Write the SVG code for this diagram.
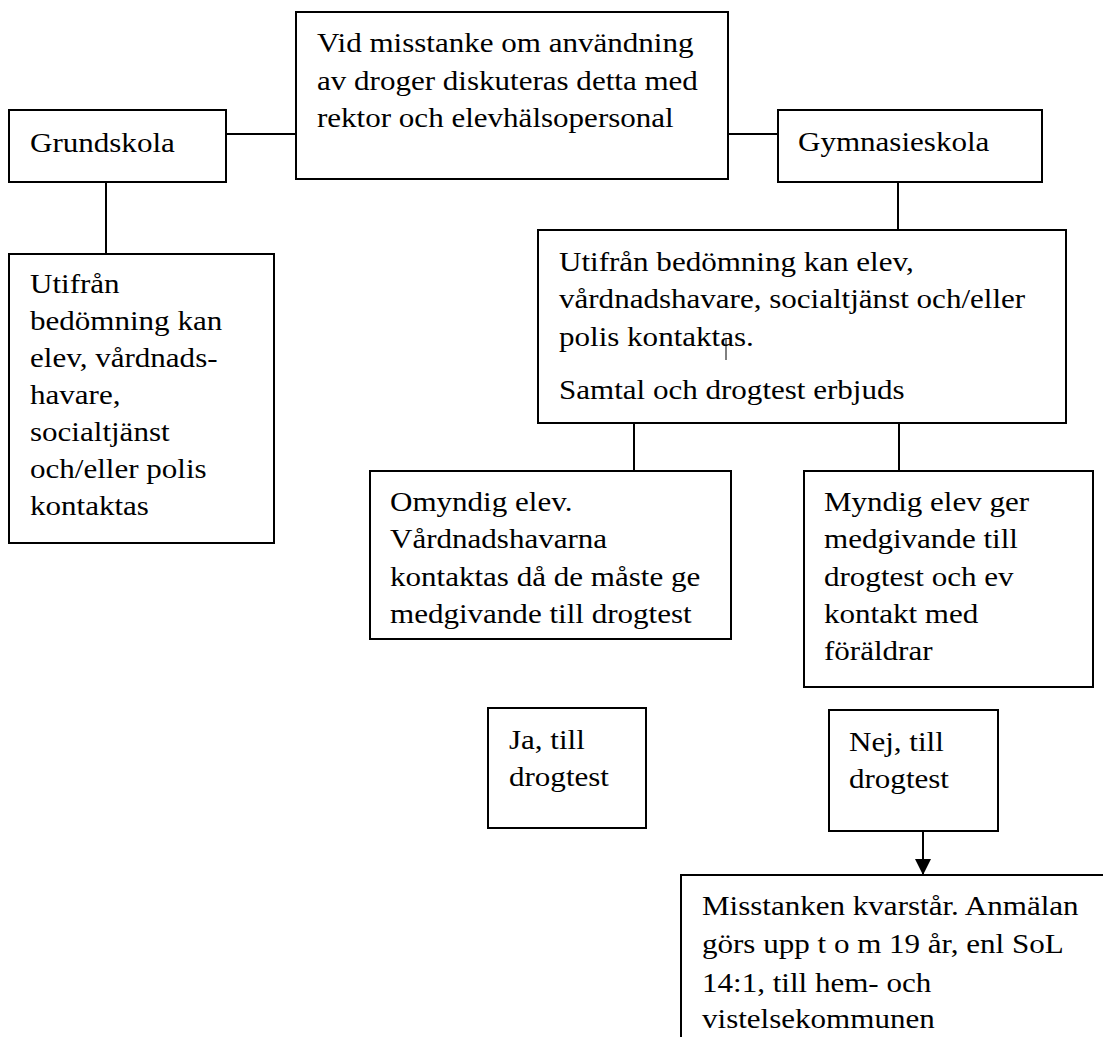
<svg xmlns="http://www.w3.org/2000/svg" width="1103" height="1037" viewBox="0 0 1103 1037">
<style>
.box{fill:#fff;stroke:#000;stroke-width:2}
.t{font-family:"Liberation Serif","Times New Roman",serif;font-size:27px;fill:#000}
.c{stroke:#000;stroke-width:2;fill:none}
</style>
<defs>
<marker id="ah" markerWidth="16" markerHeight="16" viewBox="0 0 16 16" refX="16" refY="8" orient="auto" markerUnits="userSpaceOnUse">
<path d="M0,0 L16,8 L0,16 Z" fill="#000"/>
</marker>
</defs>
<rect width="1103" height="1037" fill="#fff"/>
<g id="connectors">
<line class="c" x1="226" y1="134" x2="296" y2="134"/>
<line class="c" x1="728" y1="134" x2="778" y2="134"/>
<line class="c" x1="106" y1="182" x2="106" y2="254"/>
<line class="c" x1="898" y1="182" x2="898" y2="230"/>
<line class="c" x1="634" y1="423" x2="634" y2="471"/>
<line class="c" x1="899" y1="423" x2="899" y2="471"/>
<line class="c" x1="923" y1="831" x2="923" y2="875" marker-end="url(#ah)"/>
</g>
<g id="center">
<rect class="box" x="296" y="12" width="432" height="167"/>
<text class="t" transform="translate(317,0) scale(1.15,1)"><tspan x="0" y="52">Vid misstanke om användning</tspan><tspan x="0" y="90">av droger diskuteras detta med</tspan><tspan x="0" y="127">rektor och elevhälsopersonal</tspan></text>
</g>
<g id="grundskola">
<rect class="box" x="9" y="110" width="217" height="72"/>
<text class="t" transform="translate(30,0) scale(1.15,1)"><tspan x="0" y="152">Grundskola</tspan></text>
</g>
<g id="gymnasieskola">
<rect class="box" x="778" y="110" width="264" height="72"/>
<text class="t" transform="translate(798,0) scale(1.15,1)"><tspan x="0" y="151">Gymnasieskola</tspan></text>
</g>
<g id="grund-utifran">
<rect class="box" x="9" y="254" width="265" height="289"/>
<text class="t" transform="translate(30,0) scale(1.15,1)"><tspan x="0" y="293">Utifrån</tspan><tspan x="0" y="330">bedömning kan</tspan><tspan x="0" y="367">elev, vårdnads-</tspan><tspan x="0" y="404">havare,</tspan><tspan x="0" y="441">socialtjänst</tspan><tspan x="0" y="478">och/eller polis</tspan><tspan x="0" y="515">kontaktas</tspan></text>
</g>
<g id="gym-utifran">
<rect class="box" x="538" y="230" width="528" height="193"/>
<text class="t" transform="translate(559,0) scale(1.15,1)"><tspan x="0" y="271">Utifrån bedömning kan elev,</tspan><tspan x="0" y="308">vårdnadshavare, socialtjänst och/eller</tspan><tspan x="0" y="346">polis kontaktas.</tspan><tspan x="0" y="399">Samtal och drogtest erbjuds</tspan></text>
<line x1="726" y1="339" x2="726" y2="360" stroke="#000" stroke-width="1"/>
</g>
<g id="omyndig">
<rect class="box" x="370" y="471" width="361" height="168"/>
<text class="t" transform="translate(390,0) scale(1.15,1)"><tspan x="0" y="511">Omyndig elev.</tspan><tspan x="0" y="548">Vårdnadshavarna</tspan><tspan x="0" y="586">kontaktas då de måste ge</tspan><tspan x="0" y="623">medgivande till drogtest</tspan></text>
</g>
<g id="myndig">
<rect class="box" x="804" y="471" width="289" height="216"/>
<text class="t" transform="translate(824,0) scale(1.15,1)"><tspan x="0" y="511">Myndig elev ger</tspan><tspan x="0" y="548">medgivande till</tspan><tspan x="0" y="586">drogtest och ev</tspan><tspan x="0" y="623">kontakt med</tspan><tspan x="0" y="660">föräldrar</tspan></text>
</g>
<g id="ja">
<rect class="box" x="488" y="708" width="158" height="120"/>
<text class="t" transform="translate(509,0) scale(1.15,1)"><tspan x="0" y="749">Ja, till</tspan><tspan x="0" y="786">drogtest</tspan></text>
</g>
<g id="nej">
<rect class="box" x="829" y="710" width="169" height="121"/>
<text class="t" transform="translate(849,0) scale(1.15,1)"><tspan x="0" y="751">Nej, till</tspan><tspan x="0" y="788">drogtest</tspan></text>
</g>
<g id="misstanken">
<rect class="box" x="681" y="875" width="440" height="180"/>
<text class="t" transform="translate(702,0) scale(1.15,1)"><tspan x="0" y="915">Misstanken kvarstår. Anmälan</tspan><tspan x="0" y="953">görs upp t o m 19 år, enl SoL</tspan><tspan x="0" y="992">14:1, till hem- och</tspan><tspan x="0" y="1028">vistelsekommunen</tspan></text>
</g>
</svg>
